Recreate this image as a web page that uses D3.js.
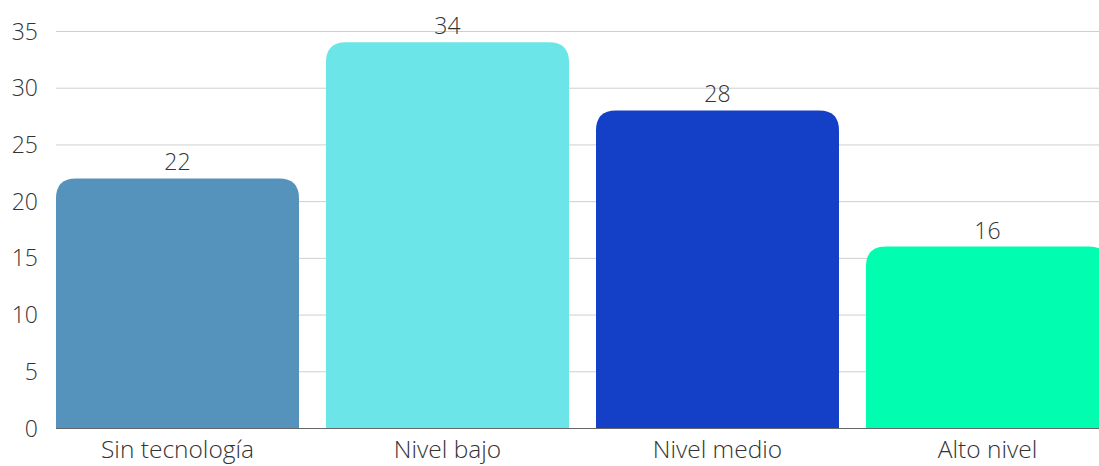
<!DOCTYPE html>
<html><head><meta charset="utf-8">
<script src="https://cdn.jsdelivr.net/npm/d3@7"></script>
<style>
html,body{margin:0;padding:0;background:#fff;overflow:hidden}
text{font-family:"Open Sans",sans-serif;font-weight:300;fill:#333}
</style></head>
<body><svg id="c" width="1099" height="466"></svg>
<script>
const categories = ["Sin tecnología","Nivel bajo","Nivel medio","Alto nivel"];
const values = [22,34,28,16];
const colors = ["#5592BC","#6CE5E8","#1440C7","#00FDB0"];
const yTicks = [0,5,10,15,20,25,30,35];

(function(){
const svg = d3.select("#c");
const mLeft = 56, mRight = 1109, mTop = 31, mBottom = 428;
const x = d3.scaleBand().domain(categories).range([mLeft,mRight]).paddingInner(0.1).paddingOuter(0);
const y = d3.scaleLinear().domain([0,35]).range([mBottom,mTop]);

// gridlines
svg.append("g").selectAll("line").data(yTicks.filter(d=>d>0)).join("line")
  .attr("x1",mLeft).attr("x2",1099).attr("y1",d=>y(d)+0.5).attr("y2",d=>y(d)+0.5)
  .attr("stroke","#cfcfcf").attr("stroke-width",1);

// y axis labels
const ya = svg.append("g").attr("transform",`translate(${mLeft},0)`)
  .call(d3.axisLeft(y).tickValues(yTicks).tickSize(0).tickPadding(18));
ya.select(".domain").remove();
ya.selectAll("text").style("font-size","23px").attr("fill","#2b2b2b").attr("dy","0.35em");

// bars with rounded top corners
const r = 20;
function barPath(x0,w,y0,y1){
  return `M${x0},${y1}V${y0+r}Q${x0},${y0} ${x0+r},${y0}H${x0+w-r}Q${x0+w},${y0} ${x0+w},${y0+r}V${y1}Z`;
}
svg.append("g").selectAll("path").data(values).join("path")
  .attr("d",(d,i)=>barPath(x(categories[i]),x.bandwidth(),y(d),y(0)))
  .attr("fill",(d,i)=>colors[i]);

// baseline
svg.append("line").attr("x1",mLeft).attr("x2",1099).attr("y1",mBottom+0.5).attr("y2",mBottom+0.5)
  .attr("stroke","#666").attr("stroke-width",1);

// value labels
svg.append("g").selectAll("text").data(values).join("text")
  .attr("x",(d,i)=>x(categories[i])+x.bandwidth()/2)
  .attr("y",d=>y(d)-8)
  .attr("text-anchor","middle").style("font-size","23px").attr("fill","#2b2b2b")
  .text(d=>d);

// x axis labels
const xa = svg.append("g").attr("transform",`translate(0,${mBottom})`)
  .call(d3.axisBottom(x).tickSize(0).tickPadding(13));
xa.select(".domain").remove();
xa.selectAll("text").style("font-size","24.5px").attr("fill","#2b2b2b");
})();
</script></body></html>
